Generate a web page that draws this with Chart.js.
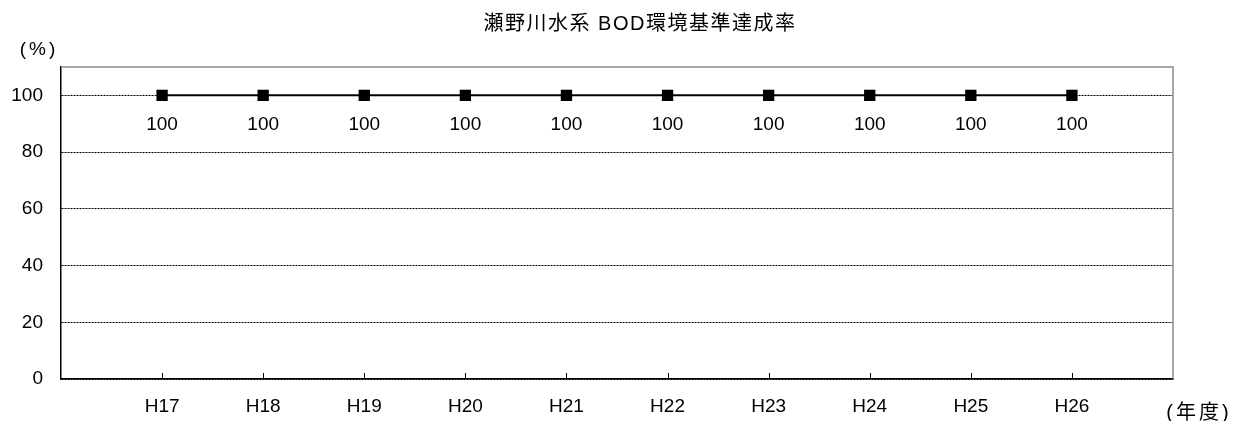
<!DOCTYPE html>
<html>
    <head>
        <title>瀬野川水系 BOD環境基準達成率</title>
        <script src="https://cdn.jsdelivr.net/npm/chart.js"></script>
        <style>
            body { margin: 0; background: #fff; }
            #chart-container { width: 1240px; height: 421px; }
        </style>
    </head>
    <body>
        <div id="chart-container">
            <canvas id="bodChart" width="1240" height="421"></canvas>
        </div>

        <script>
            // data
            const years = ['', 'H17', 'H18', 'H19', 'H20', 'H21', 'H22', 'H23', 'H24', 'H25', 'H26', ''];
            const rates = [null, 100, 100, 100, 100, 100, 100, 100, 100, 100, 100, null];
            const yTicks = [0, 20, 40, 60, 80, 100];

            const FONT = '"Liberation Sans", "Noto Sans CJK JP", sans-serif';

            // frame, tick marks, value labels and the extra texts
            const decor = {
                id: 'decor',
                afterDraw(chart) {
                    const ctx = chart.ctx;
                    const a = chart.chartArea;
                    const x = chart.scales.x;
                    ctx.save();
                    // grey top/right border
                    ctx.strokeStyle = '#8c8c8c';
                    ctx.lineWidth = 1.5;
                    ctx.beginPath();
                    ctx.moveTo(a.left, a.top);
                    ctx.lineTo(a.right, a.top);
                    ctx.lineTo(a.right, a.bottom);
                    ctx.stroke();
                    // small inside ticks on x axis
                    ctx.strokeStyle = '#000';
                    ctx.lineWidth = 1;
                    for (let i = 1; i < years.length - 1; i++) {
                        const px = Math.round(x.getPixelForTick(i)) + 0.5;
                        ctx.beginPath();
                        ctx.moveTo(px, a.bottom);
                        ctx.lineTo(px, a.bottom - 6);
                        ctx.stroke();
                    }
                    // value labels under points
                    ctx.fillStyle = '#000';
                    ctx.font = '19px ' + FONT;
                    ctx.textAlign = 'center';
                    ctx.textBaseline = 'middle';
                    chart.getDatasetMeta(0).data.forEach((pt, i) => {
                        if (rates[i] == null) return;
                        ctx.fillText(String(rates[i]), pt.x, pt.y + 29);
                    });
                    // unit texts
                    ctx.letterSpacing = '3px';
                    ctx.fillText('(%)', 39, 50);
                    ctx.font = '20px ' + FONT;
                    ctx.fillText('(年度)', 1199, 413);
                    // title
                    ctx.letterSpacing = '1.5px';
                    ctx.fillText('瀬野川水系 BOD環境基準達成率', 640, 24);
                    ctx.restore();
                }
            };

            new Chart(document.getElementById('bodChart'), {
                type: 'line',
                data: {
                    labels: years,
                    datasets: [{
                        data: rates,
                        borderColor: '#000',
                        backgroundColor: '#000',
                        borderWidth: 2,
                        pointStyle: 'rect',
                        pointRadius: 8,
                        pointBorderWidth: 0,
                        tension: 0
                    }]
                },
                options: {
                    responsive: false,
                    animation: false,
                    devicePixelRatio: 1,
                    layout: { padding: { top: 67, right: 67, left: 0, bottom: 0 } },
                    plugins: {
                        legend: { display: false },
                        tooltip: { enabled: false }
                    },
                    scales: {
                        x: {
                            offset: false,
                            afterFit: s => { s.height = 42; },
                            grid: { display: false },
                            border: { color: '#000', width: 1.5 },
                            ticks: {
                                autoSkip: false,
                                maxRotation: 0,
                                padding: 8,
                                color: '#000',
                                font: { family: FONT, size: 19 }
                            }
                        },
                        y: {
                            min: 0,
                            max: 110,
                            afterFit: s => { s.width = 61; },
                            afterBuildTicks: s => { s.ticks = yTicks.map(v => ({ value: v })); },
                            grid: {
                                color: '#000',
                                lineWidth: 1,
                                drawTicks: false
                            },
                            border: { color: '#000', width: 1.5, dash: [2, 1] },
                            ticks: {
                                padding: 18,
                                color: '#000',
                                font: { family: FONT, size: 19 }
                            }
                        }
                    }
                },
                plugins: [decor]
            });
        </script>
    </body>
</html>
